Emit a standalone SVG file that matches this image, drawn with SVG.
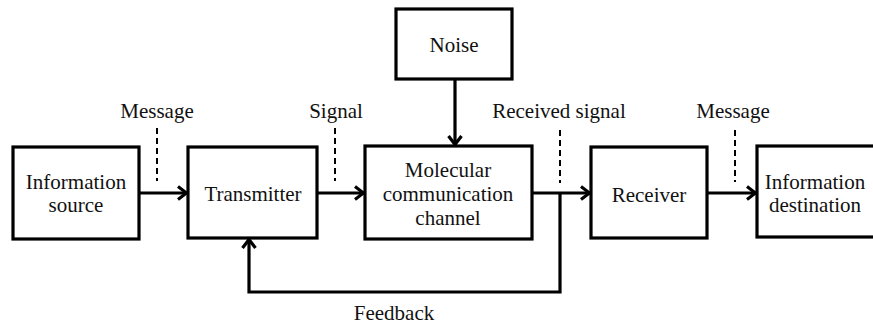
<svg xmlns="http://www.w3.org/2000/svg" width="873" height="325" viewBox="0 0 873 325">
<style>
.box{fill:#fff;stroke:#000;stroke-width:3.2}
text{font-family:'Liberation Serif','Times New Roman','DejaVu Serif',serif;font-size:21px;fill:#111;text-anchor:middle}
.line{fill:none;stroke:#000;stroke-width:3.2;stroke-linejoin:miter}
.dash{fill:none;stroke:#000;stroke-width:2;stroke-dasharray:6,4}
</style>
<defs>
<marker id="ah" viewBox="0 0 12 16" refX="11" refY="8" markerWidth="12" markerHeight="16" markerUnits="userSpaceOnUse" orient="auto">
<polyline points="2,1.5 10.5,8 2,14.5" fill="none" stroke="#000" stroke-width="3.2"/>
</marker>
</defs>
<rect width="873" height="325" fill="#fff"/>
<g id="source"><rect class="box" x="13" y="147" width="126" height="92"/><text x="76" y="189">Information</text><text x="76" y="212">source</text></g>
<g id="transmitter"><rect class="box" x="188" y="147" width="129" height="91"/><text x="253" y="201">Transmitter</text></g>
<g id="noise"><rect class="box" x="396" y="9" width="116" height="70"/><text x="454" y="52">Noise</text></g>
<g id="channel"><rect class="box" x="365" y="146" width="167" height="93"/><text x="448" y="177">Molecular</text><text x="448" y="201">communication</text><text x="448" y="225">channel</text></g>
<g id="receiver"><rect class="box" x="591" y="147" width="116" height="91"/><text x="649" y="202">Receiver</text></g>
<g id="destination"><rect class="box" x="757" y="146" width="118" height="91"/><text x="815" y="189">Information</text><text x="815" y="212">destination</text></g>
<g id="connectors">
<line class="line" x1="139" y1="193" x2="187" y2="193" marker-end="url(#ah)"/>
<line class="line" x1="317" y1="193" x2="364" y2="193" marker-end="url(#ah)"/>
<line class="line" x1="455" y1="79" x2="455" y2="145" marker-end="url(#ah)"/>
<line class="line" x1="532" y1="193" x2="590" y2="193" marker-end="url(#ah)"/>
<line class="line" x1="707" y1="193" x2="756" y2="193" marker-end="url(#ah)"/>
<polyline class="line" points="560,193 560,292 249,292 249,239" marker-end="url(#ah)"/>
<line class="dash" x1="157" y1="128" x2="157" y2="181"/>
<line class="dash" x1="335" y1="128" x2="335" y2="181"/>
<line class="dash" x1="560" y1="130" x2="560" y2="183"/>
<line class="dash" x1="735" y1="130" x2="735" y2="182"/>
</g>
<g id="labels">
<text x="157" y="118">Message</text>
<text x="336" y="118">Signal</text>
<text x="559" y="118">Received signal</text>
<text x="733" y="118">Message</text>
<text x="394" y="320">Feedback</text>
</g>
</svg>
